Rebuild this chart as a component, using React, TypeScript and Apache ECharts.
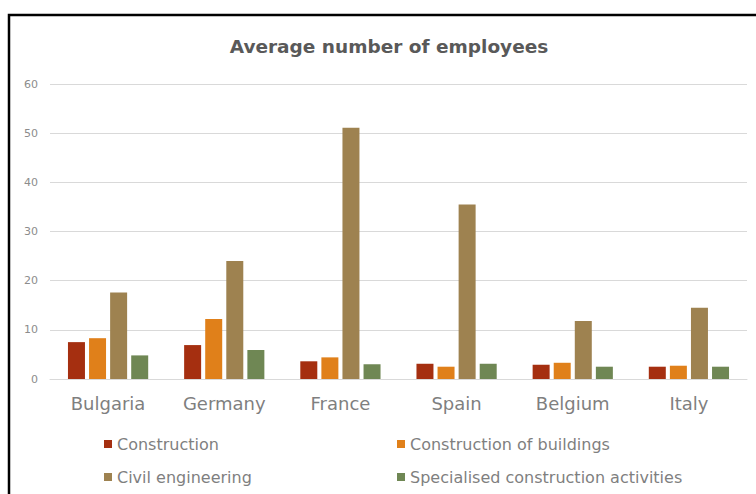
import React, { useEffect, useRef } from "react";
import * as echarts from "echarts";

const categories = ["Bulgaria", "Germany", "France", "Spain", "Belgium", "Italy"];
const seriesNames = [
  "Construction",
  "Construction of buildings",
  "Civil engineering",
  "Specialised construction activities",
];
const construction = [7.5, 6.9, 3.6, 3.1, 2.9, 2.5];
const buildings = [8.3, 12.2, 4.4, 2.5, 3.3, 2.7];
const civil = [17.6, 24.0, 51.1, 35.5, 11.8, 14.5];
const specialised = [4.8, 5.9, 3.0, 3.1, 2.5, 2.5];
const yTicks = [0, 10, 20, 30, 40, 50, 60];

const colors = ["#A52F10", "#E0801A", "#9E8250", "#6F8754"];
const FONT = "DejaVu Sans";

export default function App() {
  const ref = useRef<HTMLDivElement>(null);
  useEffect(() => {
    if (!ref.current) return;
    const chart = echarts.init(ref.current, undefined, { renderer: "svg" });
    const values = [construction, buildings, civil, specialised];
    const legendText = { fontFamily: FONT, fontSize: 16, color: "#7f7f7f", lineHeight: 20 };
    chart.setOption({
      animation: false,
      backgroundColor: "#ffffff",
      color: colors,
      textStyle: { fontFamily: FONT },
      title: {
        text: "Average number of employees",
        left: 384,
        textAlign: "center",
        top: 32,
        textStyle: { fontFamily: FONT, fontSize: 18.5, fontWeight: "bold", color: "#595959" },
      },
      graphic: [
        {
          type: "rect",
          shape: { x: 9, y: 15, width: 900, height: 700 },
          style: { fill: "none", stroke: "#000000", lineWidth: 2.5 },
          silent: true,
        },
      ],
      legend: [
        {
          orient: "vertical",
          left: 104,
          top: 434,
          height: 60,
          padding: 0,
          itemWidth: 8,
          itemHeight: 8,
          itemGap: 13,
          icon: "rect",
          data: [seriesNames[0], seriesNames[2]],
          textStyle: legendText,
        },
        {
          orient: "vertical",
          left: 397,
          top: 434,
          height: 60,
          padding: 0,
          itemWidth: 8,
          itemHeight: 8,
          itemGap: 13,
          icon: "rect",
          data: [seriesNames[1], seriesNames[3]],
          textStyle: legendText,
        },
      ],
      grid: { left: 50, right: 9, top: 84, bottom: 115, containLabel: false },
      xAxis: {
        type: "category",
        data: categories,
        axisLine: { show: true, lineStyle: { color: "#d9d9d9", width: 1 } },
        axisTick: { show: false },
        axisLabel: { fontFamily: FONT, fontSize: 18, color: "#7f7f7f", margin: 15 },
      },
      yAxis: {
        type: "value",
        min: yTicks[0],
        max: yTicks[yTicks.length - 1],
        interval: 10,
        axisLine: { show: false },
        axisTick: { show: false },
        splitLine: { lineStyle: { color: "#d9d9d9", width: 1 } },
        axisLabel: { fontFamily: FONT, fontSize: 11, color: "#8c8c8c", margin: 12 },
      },
      series: seriesNames.map((name, i) => ({
        name,
        type: "bar",
        data: values[i],
        barWidth: 17,
        barGap: "24%",
        itemStyle: { color: colors[i] },
      })),
    });
    return () => chart.dispose();
  }, []);
  return (
    <div style={{ position: "absolute", left: 0, top: 0, width: 756, height: 494, overflow: "hidden" }}>
      <div ref={ref} style={{ width: 756, height: 494 }} />
    </div>
  );
}
